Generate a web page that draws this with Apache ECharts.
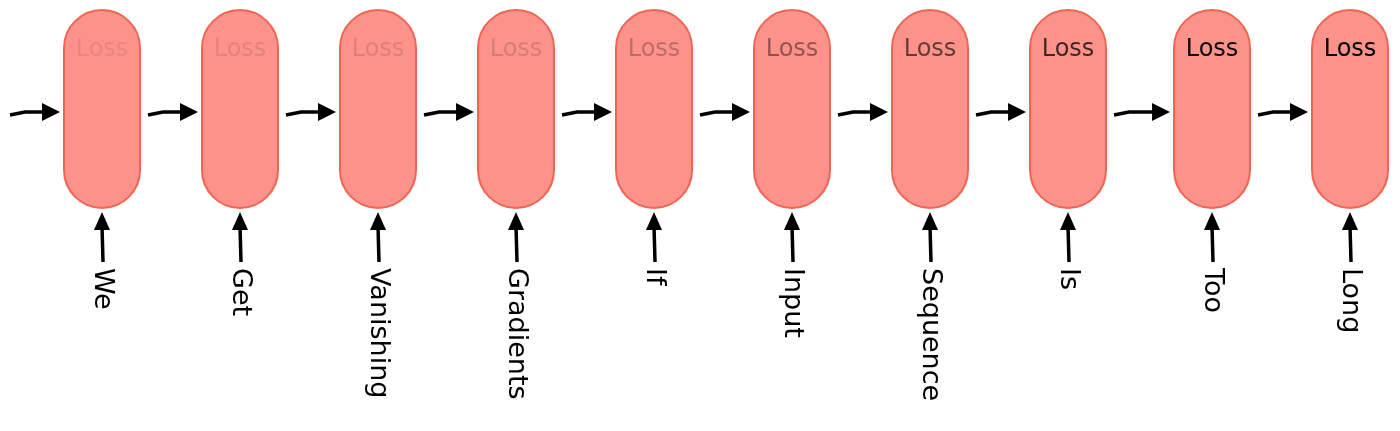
<!DOCTYPE html>
<html>
<head>
<meta charset="utf-8">
<script src="https://cdn.jsdelivr.net/npm/echarts@6/dist/echarts.min.js"></script>
<style>
  html, body { margin: 0; padding: 0; background: #fff; }
  #chart { width: 1400px; height: 431px; }
</style>
</head>
<body>
<div id="chart"></div>
<script>
// 每个单元的中心位置（横坐标）
const cellCenters = [102, 240, 378, 516, 654, 792, 930, 1068, 1212, 1350];
// 输入单词
const words = ["We", "Get", "Vanishing", "Gradients", "If", "Input", "Sequence", "Is", "Too", "Long"];
// "Loss" 文字的可见度（越往后越清晰）
const lossOpacity = [0.08, 0.1, 0.12, 0.15, 0.25, 0.42, 0.6, 0.75, 0.95, 1];

const FONT = "'DejaVu Sans', sans-serif";
const chart = echarts.init(document.getElementById("chart"));

function renderCell(params, api) {
  const i = params.dataIndex;
  const cx = api.value(0);
  const prevRight = i === 0 ? 10 : cellCenters[i - 1] + 46;
  const left = api.coord([cx - 38, 10]);
  const right = api.coord([cx + 38, 208]);
  const w = right[0] - left[0];
  const h = right[1] - left[1];
  const arrowY = api.coord([0, 112])[1];
  const a0 = api.coord([prevRight, 0])[0];
  const a1 = left[0] - 4;
  const vTop = api.coord([0, 212])[1];
  const vBot = api.coord([0, 262])[1];
  const center = api.coord([cx, 0])[0];
  return {
    type: "group",
    children: [
      { type: "rect", shape: { x: left[0], y: left[1], width: w, height: h, r: w / 2 },
        style: { fill: "#fd928a", stroke: "#ee6553", lineWidth: 2 } },
      { type: "text", x: center, y: left[1] + 40,
        style: { text: "Loss", fill: "rgba(0,0,0," + api.value(1) + ")", font: "24px " + FONT,
          align: "center", verticalAlign: "middle" } },
      // 水平箭头
      { type: "polyline", shape: { points: [[a0, arrowY + 3], [a0 + 15, arrowY], [a1 - 14, arrowY]] },
        style: { stroke: "#000", lineWidth: 3.5, fill: null } },
      { type: "polygon", shape: { points: [[a1 - 18, arrowY - 9], [a1, arrowY], [a1 - 18, arrowY + 9]] },
        style: { fill: "#000" } },
      // 竖直箭头
      { type: "line", shape: { x1: center, y1: vTop + 14, x2: center + 1, y2: vBot },
        style: { stroke: "#000", lineWidth: 3.5 } },
      { type: "polygon", shape: { points: [[center - 8, vTop + 18], [center, vTop], [center + 8, vTop + 18]] },
        style: { fill: "#000" } },
      { type: "text", x: center, y: vBot + 6, rotation: -Math.PI / 2,
        style: { text: words[i], fill: "#000", font: "27px " + FONT,
          align: "left", verticalAlign: "middle" } }
    ]
  };
}

chart.setOption({
  animation: false,
  grid: { left: 0, right: 0, top: 0, bottom: 0 },
  xAxis: { type: "value", min: 0, max: 1400, show: false },
  yAxis: { type: "value", min: 0, max: 431, inverse: true, show: false },
  series: [{
    type: "custom",
    renderItem: renderCell,
    data: cellCenters.map((c, i) => [c, lossOpacity[i]])
  }]
});
</script>
</body>
</html>
